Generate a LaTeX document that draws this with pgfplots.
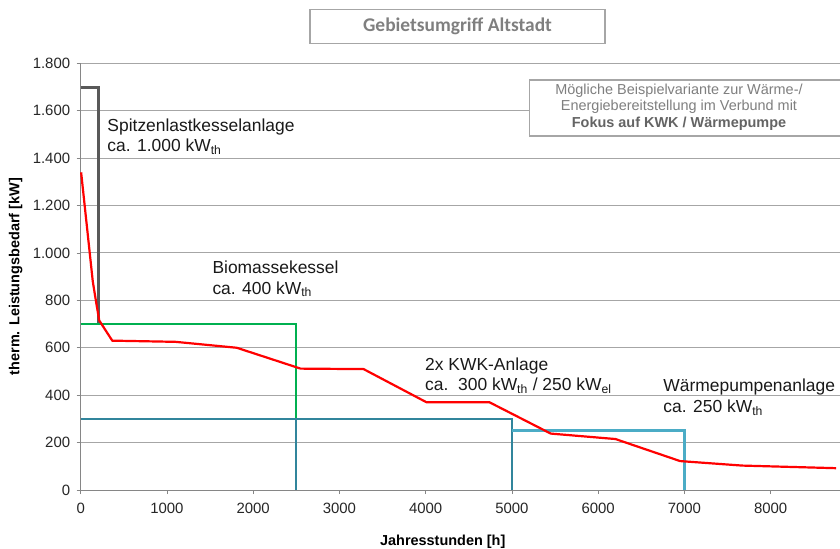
\documentclass[border=0pt]{standalone}
\usepackage{fontspec}
\setmainfont{Liberation Sans}
\newfontfamily\titlefont{Carlito}
\usepackage{pgfplots}
\pgfplotsset{compat=1.18}

\definecolor{gridgray}{HTML}{A6A6A6}
\definecolor{axisgray}{HTML}{868686}
\definecolor{peakgray}{HTML}{595959}
\definecolor{biogreen}{HTML}{00B050}
\definecolor{kwkblue}{HTML}{31859C}
\definecolor{hpteal}{HTML}{4BACC6}
\definecolor{textgray}{HTML}{7F7F7F}
\definecolor{boldgray}{HTML}{646464}

\newcommand{\lbl}{\fontsize{17.5}{20.5}\selectfont}

\begin{document}
\begin{tikzpicture}
\path[use as bounding box] (0,0) rectangle (840bp,549bp);
\begin{axis}[
  at={(80.7bp,59bp)}, anchor=south west,
  scale only axis, width=759.3bp, height=426.7bp,
  xmin=0, xmax=8804, ymin=0, ymax=1800,
  axis x line=bottom, axis y line=left,
  axis line style={axisgray, line width=1bp, -},
  xtick={0,1000,...,8000}, ytick={0,200,...,1800},
  ymajorgrids, grid style={gridgray, line width=0.9bp},
  tick style={axisgray, line width=0.8bp}, tick align=outside,
  major tick length=4bp,
  /pgf/number format/assume math mode=true,
  xticklabel style={/pgf/number format/1000 sep={}, yshift=-6bp},
  yticklabel style={/pgf/number format/1000 sep={.}, xshift=-3bp},
  tick label style={font=\fontsize{15}{18}\selectfont, text=black!85},
  xlabel={\textbf{Jahresstunden [h]}},
  ylabel={\textbf{therm. Leistungsbedarf [kW]}},
  label style={font=\fontsize{14.5}{17}\selectfont, text=black},
  xlabel style={at={(axis description cs:0.4768,0)}, anchor=base, yshift=-55bp},
  ylabel style={at={(axis description cs:-0.0857,0.5)}, anchor=center},
  clip=false,
]
% Spitzenlastkessel
\addplot[peakgray, line width=3bp] coordinates {(0,1700) (205,1700) (205,700)};
% Biomassekessel
\addplot[biogreen, line width=2bp] coordinates {(0,700) (2500,700) (2500,300)};
% KWK-Anlagen
\addplot[kwkblue, line width=2bp] coordinates {(0,300) (5000,300) (5000,0)};
\addplot[kwkblue, line width=2bp] coordinates {(2500,300) (2500,0)};
% Waermepumpe
\addplot[hpteal, line width=2.5bp] coordinates {(5000,250) (7000,250) (7000,0)};
% geordnete Jahresdauerlinie
\addplot[red, line width=2.2bp] coordinates {
  (5,1340) (140,880) (180,790) (215,715) (366,630) (1100,625) (1810,600)
  (2550,512) (3280,510) (4010,370) (4740,370) (5450,238) (6200,215)
  (6950,122) (7670,103) (8760,92)};

\node[anchor=north west, align=left, inner sep=0, font=\lbl, text=black!90]
  at (axis cs:308,1568) {Spitzenlastkesselanlage\\ca. 1.000 kW\textsubscript{th}};
\node[anchor=north west, align=left, inner sep=0, font=\lbl, text=black!90]
  at (axis cs:1526,967) {Biomassekessel\\ca. 400 kW\textsubscript{th}};
\node[anchor=north west, align=left, inner sep=0, font=\lbl, text=black!90]
  at (axis cs:3992,560) {2x KWK-Anlage\\ca.\ \ 300 kW\textsubscript{th} / 250 kW\textsubscript{el}};
\node[anchor=north west, align=left, inner sep=0, font=\lbl, text=black!90]
  at (axis cs:6755,468) {Wärmepumpenanlage\\ca. 250 kW\textsubscript{th}};
\end{axis}

% title box
\node[draw=gridgray, line width=1.5bp, minimum width=295bp, minimum height=34bp,
      inner sep=0, text=textgray, font=\titlefont\bfseries\fontsize{19.5}{22}\selectfont]
  at (457.5bp,522.7bp) {Gebietsumgriff Altstadt};

% note box
\fill[white] (529.3bp,413bp) rectangle (845bp,469bp);
\draw[gridgray, line width=1.2bp] (845bp,413bp) -- (529.3bp,413bp) -- (529.3bp,469bp) -- (845bp,469bp);
\node[anchor=north, align=center, inner sep=0, text=textgray,
      font=\fontsize{14.5}{16.5}\selectfont]
  at (679bp,465.5bp) {Mögliche Beispielvariante zur Wärme-/\\Energiebereitstellung im Verbund mit\\\textcolor{boldgray}{\textbf{Fokus auf KWK / Wärmepumpe}}};
\end{tikzpicture}
\end{document}
